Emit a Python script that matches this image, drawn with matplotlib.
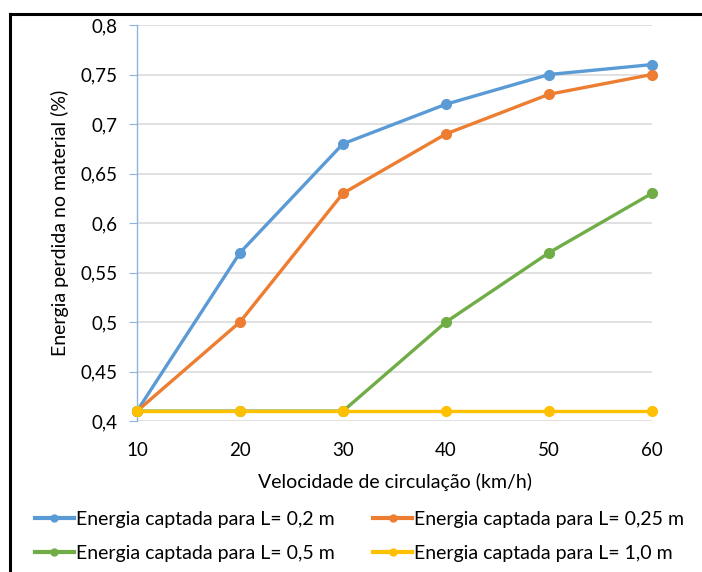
import matplotlib
matplotlib.use("Agg")
import matplotlib.pyplot as plt
from matplotlib.lines import Line2D

plt.rcParams['font.family'] = ['Lato', 'DejaVu Sans']

velocidade = [10, 20, 30, 40, 50, 60]
serie_02 = [0.41, 0.57, 0.68, 0.72, 0.75, 0.76]
serie_025 = [0.41, 0.50, 0.63, 0.69, 0.73, 0.75]
serie_05 = [0.41, 0.41, 0.41, 0.50, 0.57, 0.63]
serie_10 = [0.41, 0.41, 0.41, 0.41, 0.41, 0.41]
labels = ["Energia captada para L= 0,2 m", "Energia captada para L= 0,25 m",
          "Energia captada para L= 0,5 m", "Energia captada para L= 1,0 m"]
colors = ["#5B9BD5", "#ED7D31", "#70AD47", "#FFC000"]
yticks = [0.4, 0.45, 0.5, 0.55, 0.6, 0.65, 0.7, 0.75, 0.8]
ytick_labels = ["0,4", "0,45", "0,5", "0,55", "0,6", "0,65", "0,7", "0,75", "0,8"]

W, H = 702, 572
fig = plt.figure(figsize=(W / 100, H / 100), dpi=100)

# frame (top and left border)
fig.add_artist(Line2D([9.5 / W, 9.5 / W], [0, (H - 14) / H], color='black', lw=2.2, transform=fig.transFigure))
fig.add_artist(Line2D([9.5 / W, 1], [(H - 14) / H, (H - 14) / H], color='black', lw=2.2, transform=fig.transFigure))

ax = fig.add_axes([137 / W, 151 / H, (652 - 137) / W, 396 / H])
series = [serie_02, serie_025, serie_05, serie_10]
handles = []
for s, c, lab in zip(series, colors, labels):
    ax.plot(velocidade, s, color=c, lw=2.4, marker='o', markersize=7,
            solid_capstyle='round', clip_on=False, zorder=3)
    handles.append(Line2D([], [], color=c, lw=3, marker='o', markersize=5, label=lab))

ax.set_xlim(10, 60)
ax.set_ylim(0.4, 0.8)
ax.set_xticks(velocidade)
ax.set_xticklabels([str(v) for v in velocidade])
ax.set_yticks(yticks)
ax.set_yticklabels(ytick_labels)
ax.grid(axis='y', color='#d9d9d9', lw=1.1)
ax.grid(axis='x', visible=False)
ax.set_axisbelow(True)
for sp in ['top', 'right', 'bottom']:
    ax.spines[sp].set_visible(False)
ax.spines['left'].set_color('#8DB3E2')
ax.spines['left'].set_linewidth(1.0)
ax.tick_params(axis='y', direction='out', length=6, color='#8DB3E2', labelsize=13.5, pad=8, labelcolor='#000000')
ax.tick_params(axis='x', length=0, labelsize=13.5, pad=15, labelcolor='#000000')

ax.set_xlabel("Velocidade de circulação (km/h)", fontsize=14)
ax.set_ylabel("Energia perdida no material (%)", fontsize=14)
ax.xaxis.set_label_coords(0.5, (421 - 482) / 396, transform=ax.transAxes)
ax.yaxis.set_label_coords((60 - 137) / 515, 0.5, transform=ax.transAxes)
ax.xaxis.label.set_va('center')
ax.yaxis.label.set_va('center')

# row-wise legend order: matplotlib fills columns first
order = [0, 2, 1, 3]
fig.legend([handles[i] for i in order], [labels[i] for i in order], ncol=2,
           loc='center left', bbox_to_anchor=(35 / W, (H - 536.5) / H),
           frameon=False, fontsize=14, handlelength=2.0, handletextpad=0.1,
           columnspacing=2.0, labelspacing=0.85, borderpad=0, borderaxespad=0)

fig.savefig("out.png", dpi=100)
